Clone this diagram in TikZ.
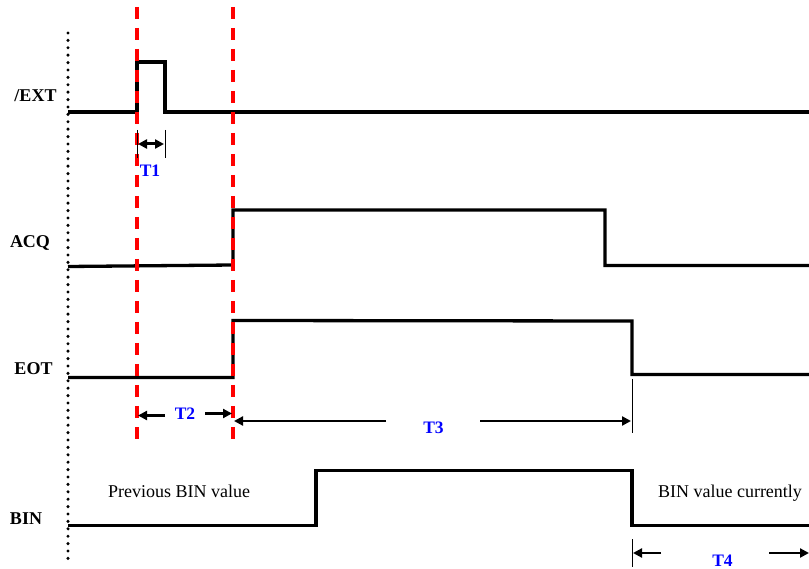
\documentclass[tikz,border=0pt]{standalone}
\usepackage{fontspec}
\setmainfont{Liberation Serif}
\usetikzlibrary{arrows.meta}
\begin{document}
\begin{tikzpicture}[x=1pt,y=-1pt,
  sig/.style={line width=3.3pt,line join=miter,line cap=butt},
  redline/.style={draw=red,line width=3.4pt,dash pattern=on 12pt off 9pt,dash phase=14pt},
  dotline/.style={line width=3.4pt,line cap=round,dash pattern=on 0pt off 7.4pt},
  tick/.style={line width=1pt},
  dimarrow/.style={line width=2.2pt,-{Triangle[length=9pt,width=9pt]}},
  lbl/.style={font=\fontsize{18}{20}\selectfont\bfseries,anchor=base,inner sep=0pt},
  tlbl/.style={font=\fontsize{17.5}{20}\selectfont\bfseries,text=blue,anchor=base,inner sep=0pt},
  note/.style={font=\fontsize{18}{20}\selectfont,anchor=base,inner sep=0pt}]
\useasboundingbox (0,0) rectangle (809,569);
% dotted reference line
\coordinate (dtop) at (68,33);
\coordinate (dbot) at (68,563);
\draw[dotline] (dtop) -- (dbot);
% signals
\draw[sig] (68,112) -- (137,112) -- (137,62) -- (165,62) -- (165,112) -- (809,112);
\draw[sig] (68,266.5) -- (233,265) -- (233,210) -- (605,210) -- (605,265.5) -- (809,265.5);
\draw[sig] (68,377.5) -- (233,377.5) -- (233,320.5) -- (632,321) -- (632,374.5) -- (809,374.5);
\draw[sig] (68,525.5) -- (316,525.5) -- (316,470.5) -- (632,470.5) -- (632,525.5) -- (809,525.5);
% red dashed markers
\draw[redline] (137,0) -- (137,447);
\draw[redline] (233,0) -- (233,447);
% labels
\node[lbl] (ext) at (35.5,102) {/EXT};
\node[lbl] (acq) at (30,248) {ACQ};
\node[lbl] (eot) at (33.5,374) {EOT};
\node[lbl] (bin) at (26,524) {BIN};
\node[note] (prev) at (179,497) {Previous BIN value};
\node[note] (curr) at (730,497) {BIN value currently};
% T1
\coordinate (t1a) at (137,130); \coordinate (t1b) at (137,158);
\coordinate (t1c) at (165,130); \coordinate (t1d) at (165,158);
\draw[tick] (t1a) -- (t1b);
\draw[tick] (t1c) -- (t1d);
\coordinate (t1l) at (138,144); \coordinate (t1r) at (164,144);
\draw[line width=3pt,{Triangle[length=9pt,width=9pt]}-{Triangle[length=9pt,width=9pt]}] (t1l) -- (t1r);
\node[tlbl] (T1) at (150,177) {T1};
% T2
\coordinate (t2a) at (165,415.5); \coordinate (t2b) at (138,415.5);
\coordinate (t2c) at (205,413.5); \coordinate (t2d) at (232,413.5);
\draw[dimarrow] (t2a) -- (t2b);
\draw[dimarrow] (t2c) -- (t2d);
\node[tlbl] (T2) at (185,419) {T2};
% T3
\coordinate (t3a) at (386,421); \coordinate (t3b) at (234,421);
\coordinate (t3c) at (480,421); \coordinate (t3d) at (631,421);
\draw[dimarrow] (t3a) -- (t3b);
\draw[dimarrow] (t3c) -- (t3d);
\coordinate (t3e) at (632,379); \coordinate (t3f) at (632,433);
\draw[tick] (t3e) -- (t3f);
\node[tlbl] (T3) at (433.5,433) {T3};
% T4
\coordinate (t4e) at (632,539); \coordinate (t4f) at (632,567);
\draw[tick] (t4e) -- (t4f);
\coordinate (t4a) at (661,553); \coordinate (t4b) at (633,553);
\coordinate (t4c) at (769,553); \coordinate (t4d) at (809,553);
\draw[dimarrow] (t4a) -- (t4b);
\draw[dimarrow] (t4c) -- (t4d);
\node[tlbl] (T4) at (722.5,566) {T4};
\end{tikzpicture}
\end{document}
